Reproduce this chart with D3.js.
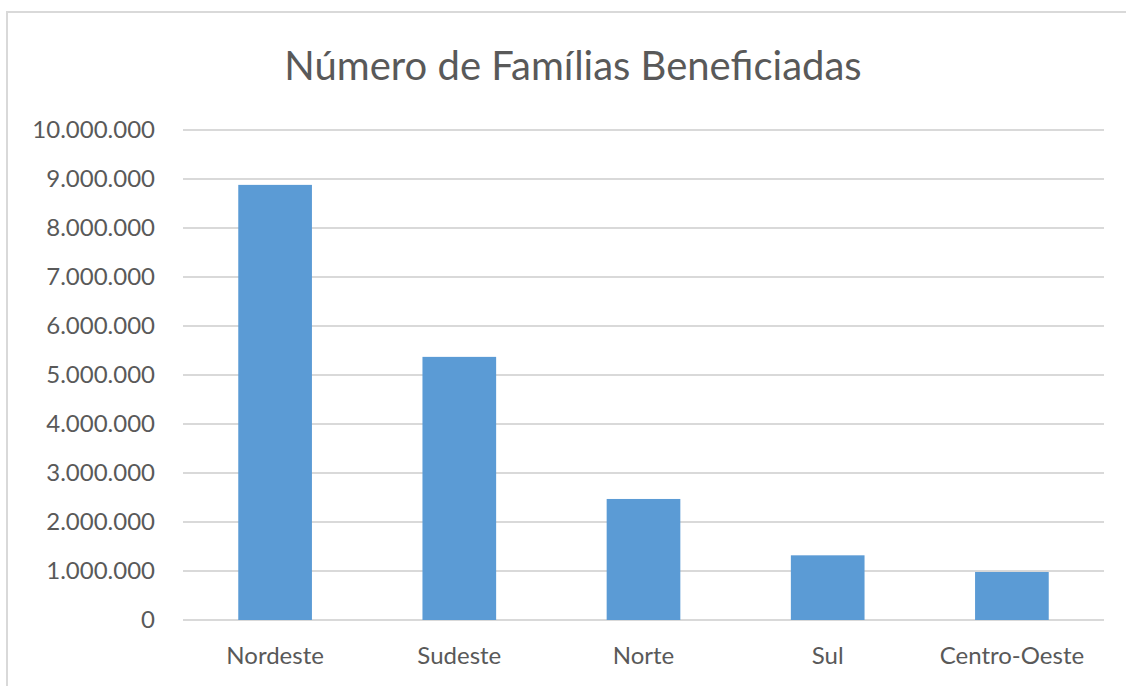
<!DOCTYPE html>
<meta charset="utf-8">
<style>
body { margin: 0; background: #fff; }
text { font-family: 'Lato', 'Open Sans', sans-serif; fill: #595959; }
.title { font-size: 40px; }
.tick text { font-size: 24px; }
.grid line { stroke: #d9d9d9; stroke-width: 2px; }
</style>
<body>
<script src="https://d3js.org/d3.v7.min.js"></script>
<script>

const regions = ["Nordeste", "Sudeste", "Norte", "Sul", "Centro-Oeste"];
const families = [8880000, 5370000, 2470000, 1320000, 980000];
const yTicks = [0, 1000000, 2000000, 3000000, 4000000, 5000000, 6000000, 7000000, 8000000, 9000000, 10000000];

let width = 1126,
    height = 686,
    margin = {top: 130, right: 22, bottom: 66, left: 183};

const ptBR = d3.formatLocale({decimal: ",", thousands: ".", grouping: [3], currency: ["R$", ""]});

let svg = d3.select("body").append("svg")
            .attr("width", width)
            .attr("height", height);

// chart frame (left and top edges are the only ones in view)
svg.append("rect")
    .attr("x", 7)
    .attr("y", 12)
    .attr("width", width + 20)
    .attr("height", height + 20)
    .attr("fill", "none")
    .attr("stroke", "#d9d9d9")
    .attr("stroke-width", 2);

let x = d3.scaleBand()
          .domain(regions)
          .range([margin.left, width - margin.right])
          .paddingInner(0.6)
          .paddingOuter(0.3),
    y = d3.scaleLinear()
          .domain([0, 10000000])
          .range([height - margin.bottom, margin.top]);

// gridlines
svg.append("g")
    .attr("class", "grid")
    .selectAll("line")
    .data(yTicks)
    .join("line")
        .attr("x1", margin.left)
        .attr("x2", width - margin.right)
        .attr("y1", d => y(d))
        .attr("y2", d => y(d));

// y axis labels
let yAxis = svg.append("g")
    .attr("transform", `translate(${margin.left - 28},0)`)
    .call(d3.axisLeft(y).tickValues(yTicks).tickFormat(ptBR.format(",d")).tickSize(0).tickPadding(0));
yAxis.select(".domain").remove();

// bars
svg.append("g")
    .selectAll("rect")
    .data(regions)
    .join("rect")
        .attr("x", d => x(d))
        .attr("width", x.bandwidth())
        .attr("y", (d, i) => y(families[i]))
        .attr("height", (d, i) => y(0) - y(families[i]))
        .attr("fill", "#5b9bd5");

// x axis labels
let xAxis = svg.append("g")
    .attr("transform", `translate(0,${height - margin.bottom})`)
    .call(d3.axisBottom(x).tickSize(0).tickPadding(27));
xAxis.select(".domain").remove();

svg.append("text")
    .attr("class", "title")
    .attr("x", 573)
    .attr("y", 80)
    .attr("text-anchor", "middle")
    .text("Número de Famílias Beneficiadas");

</script>
